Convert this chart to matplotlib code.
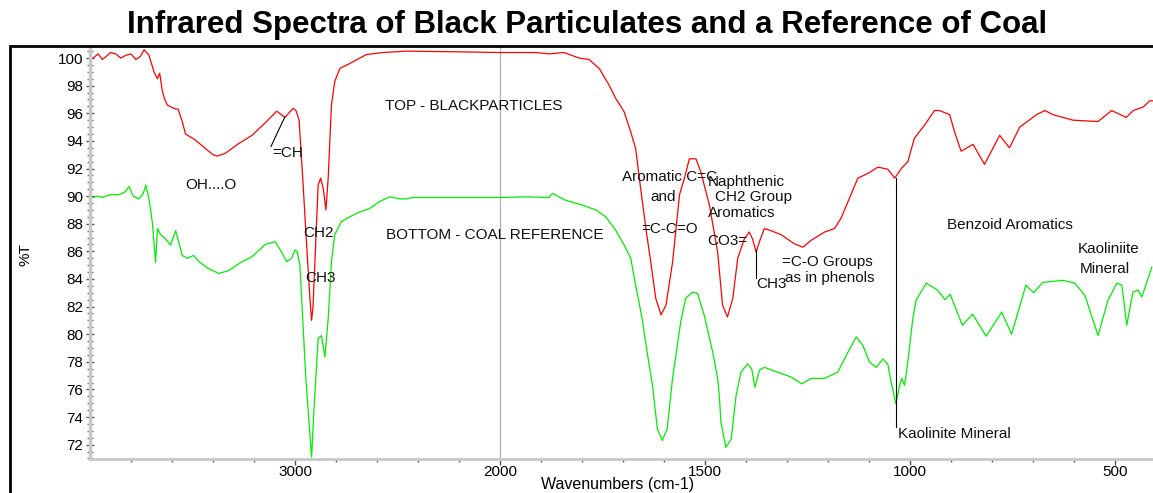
import numpy as np
import matplotlib
matplotlib.use('Agg')
import matplotlib.pyplot as plt
from matplotlib.patches import Rectangle
from matplotlib.ticker import FixedLocator

plt.rcParams['font.family'] = ['Liberation Sans', 'DejaVu Sans']

# top spectrum: black particles (wavenumber cm-1, %T)
red_wn = [3985, 3960, 3940, 3922, 3900, 3874, 3850, 3825, 3800, 3777, 3755, 3736,
          3712, 3688, 3671, 3660, 3647, 3635, 3623, 3591, 3570, 3550, 3534, 3485,
          3437, 3400, 3380, 3340, 3275, 3210, 3146, 3089, 3049, 3010, 2995, 2980,
          2960, 2947, 2927, 2919, 2912, 2903, 2887, 2875, 2862, 2849, 2838, 2822,
          2806, 2781, 2733, 2652, 2571, 2458, 2200, 2000, 1913, 1880, 1844, 1807,
          1783, 1758, 1734, 1718, 1697, 1681, 1669, 1660, 1644, 1632, 1620, 1607,
          1595, 1579, 1562, 1550, 1538, 1522, 1510, 1489, 1469, 1457, 1445, 1432,
          1420, 1404, 1392, 1384, 1375, 1367, 1355, 1339, 1314, 1282, 1261, 1241,
          1208, 1184, 1168, 1151, 1127, 1102, 1078, 1054, 1037, 1021, 1005, 989,
          964, 940, 928, 903, 891, 875, 846, 818, 781, 757, 732, 691, 671, 651,
          602, 541, 508, 472, 455, 431, 415, 407]
red_t = [100.0, 100.3, 99.9, 100.1, 100.4, 100.3, 100.0, 100.2, 100.3, 99.9, 100.1, 100.6,
         100.2, 99.0, 98.5, 98.9, 97.6, 97.0, 96.6, 96.35, 96.3, 95.4, 94.5, 94.05,
         93.45, 93.0, 92.9, 93.1, 93.8, 94.4, 95.3, 96.15, 95.7, 96.35, 96.2, 95.5,
         90.8, 87.4, 82.6, 81.0, 82.0, 85.2, 90.8, 91.3, 90.55, 89.0, 91.3, 96.6,
         98.3, 99.25, 99.6, 100.25, 100.4, 100.5, 100.45, 100.4, 100.4, 100.3, 100.4, 100.0,
         99.9, 99.25, 98.05, 97.1, 96.1, 94.65, 93.45, 91.3, 87.65, 85.2, 82.6, 81.4,
         82.1, 85.2, 90.1, 91.3, 92.7, 92.7, 91.75, 89.35, 85.95, 82.1, 81.25, 82.6,
         85.5, 86.9, 87.4, 86.9, 85.95, 86.7, 87.65, 87.5, 87.2, 86.55, 86.3, 86.8,
         87.4, 87.65, 88.4, 89.6, 91.3, 91.65, 92.1, 91.95, 91.3, 92.0, 92.5, 94.2,
         95.15, 96.2, 96.2, 95.9, 94.65, 93.25, 93.75, 92.3, 94.4, 93.5, 95.0, 95.9, 96.2, 95.9,
         95.5, 95.4, 96.2, 95.7, 96.2, 96.45, 96.9, 96.9]

# bottom spectrum: coal reference
green_wn = [3987, 3960, 3940, 3922, 3900, 3858, 3830, 3809, 3790, 3761, 3740, 3728,
            3712, 3696, 3680, 3671, 3655, 3631, 3607, 3582, 3566, 3550, 3526, 3494,
            3469, 3421, 3372, 3324, 3259, 3210, 3146, 3097, 3065, 3041, 3016, 3000,
            2990, 2976, 2960, 2947, 2935, 2919, 2908, 2887, 2871, 2854, 2838, 2822,
            2806, 2774, 2733, 2685, 2636, 2587, 2539, 2490, 2458, 2425, 2200, 2000,
            1937, 1880, 1872, 1840, 1799, 1766, 1742, 1718, 1697, 1681, 1669, 1653,
            1641, 1628, 1616, 1604, 1592, 1579, 1559, 1547, 1530, 1518, 1502, 1481,
            1469, 1465, 1461, 1449, 1436, 1424, 1412, 1396, 1386, 1378, 1367, 1355,
            1323, 1290, 1264, 1241, 1208, 1176, 1151, 1131, 1115, 1099, 1082, 1066,
            1054, 1046, 1034, 1025, 1020, 1013, 1005, 993, 985, 960, 933, 914,
            902, 872, 847, 814, 776, 752, 717, 698, 676, 627, 598, 573,
            541, 517, 495, 483, 471, 456, 444, 434, 419, 410]
green_t = [89.9, 90.0, 89.9, 90.0, 90.1, 90.1, 90.3, 90.7, 90.0, 89.8, 90.2, 90.8,
           89.8, 88.1, 85.2, 87.65, 87.2, 86.9, 86.45, 87.5, 86.6, 85.7, 85.5, 85.7,
           85.25, 84.75, 84.4, 84.6, 85.25, 85.6, 86.5, 86.7, 85.95, 85.25, 85.5, 86.1,
           86.0, 85.0, 80.4, 76.8, 74.35, 71.1, 74.35, 79.7, 79.9, 78.35, 81.1, 85.25,
           87.2, 88.15, 88.5, 88.85, 89.1, 89.6, 89.95, 89.8, 89.8, 89.9, 89.9, 89.9,
           89.95, 89.9, 90.2, 89.7, 89.35, 89.0, 88.5, 87.55, 86.45, 85.5, 83.55, 81.1,
           78.7, 76.3, 73.15, 72.3, 73.15, 76.8, 80.9, 82.6, 83.05, 82.95, 81.4, 78.7,
           76.8, 75.55, 73.65, 71.8, 72.4, 75.55, 77.25, 77.85, 77.5, 76.15, 77.4, 77.6,
           77.25, 76.9, 76.4, 76.8, 76.8, 77.25, 78.7, 79.8, 79.2, 78.0, 77.6, 78.2,
           77.85, 76.55, 74.95, 76.3, 76.8, 76.3, 78.0, 81.1, 82.45, 83.7, 83.2, 82.5,
           82.9, 80.65, 81.45, 79.85, 81.6, 80.0, 83.55, 83.0, 83.75, 83.9, 83.7, 82.8,
           79.9, 82.45, 83.7, 83.55, 80.65, 83.05, 83.2, 82.7, 84.05, 84.85]

x_major = [3000, 2000, 1500, 1000, 500]
y_major = list(range(72, 101, 2))

# band labels: (text, wavenumber, %T)
labels = [
    ('=CH', 3112, 93.13), ('OH....O', 3534, 90.8),
    ('TOP - BLACKPARTICLES', 2563, 96.5), ('BOTTOM - COAL REFERENCE', 2558, 87.2),
    ('CH2', 2961, 87.35), ('CH3', 2951, 84.1),
    ('Aromatic C=C', 1702, 91.4), ('and', 1634, 89.9), ('=C-C=O', 1656, 87.6),
    ('Naphthenic', 1494, 91.0), ('CH2 Group', 1475, 89.9), ('Aromatics', 1492, 88.8),
    ('CO3=', 1494, 86.75), ('CH3', 1375, 83.6),
    ('=C-O Groups', 1311, 85.2), ('as in phenols', 1304, 84.05),
    ('Kaolinite Mineral', 1030, 72.8), ('Benzoid Aromatics', 910, 87.9),
    ('Kaoliniite', 590, 86.2), ('Mineral', 585, 84.7),
]
# leader lines: ([w1, w2], [t1, t2])
leaders = [([3117, 3049], [93.6, 95.75]),
           ([1375, 1375], [86.1, 84.05]),
           ([1035, 1035], [91.3, 73.28])]


def fwd(w):
    w = np.asarray(w, dtype=float)
    return np.where(w > 2000, 2000 + (w - 2000) / 2, w)


def inv(x):
    x = np.asarray(x, dtype=float)
    return np.where(x > 2000, 2000 + (x - 2000) * 2, x)


W, H = 1153, 493
fig = plt.figure(figsize=(W / 100, H / 100), dpi=100)
ax = fig.add_axes([90 / W, 34 / H, 1063 / W, 412 / H])
ax.set_xscale('function', functions=(fwd, inv))

ax.axvline(2000, color='#b4b4b4', lw=0.9, zorder=0)
ax.plot(red_wn, red_t, color='#ff0000', lw=0.9)
ax.plot(green_wn, green_t, color='#00ee00', lw=0.9)

for xs, ys in leaders:
    ax.plot(xs, ys, color='black', lw=0.8)
for s, w, t in labels:
    ax.text(w, t, s, ha='left', va='center', fontsize=11, color='#111111')

ax.set_xlim(4000, 407)
ax.set_ylim(70.96, 100.8)

ax.xaxis.set_major_locator(FixedLocator(x_major))
minor_x = [w for w in list(range(3800, 2000, -200)) + list(range(1900, 400, -100))
           if w not in x_major]
ax.xaxis.set_minor_locator(FixedLocator(minor_x))
ax.set_xticklabels([str(v) for v in x_major])
ax.set_yticks(y_major)
ax.yaxis.set_minor_locator(FixedLocator(np.arange(71, 100.6, 0.5)))

for side in ['top', 'right']:
    ax.spines[side].set_visible(False)
ax.spines['left'].set_color('#c8c8c8')
ax.spines['left'].set_linewidth(2.5)
ax.spines['bottom'].set_color('#c8c8c8')
ax.spines['bottom'].set_linewidth(2.0)

ax.tick_params(axis='y', which='major', direction='inout', length=6, width=1,
               color='#555555', labelsize=11, pad=2)
ax.tick_params(axis='y', which='minor', direction='inout', length=4, width=1,
               color='#777777')
ax.tick_params(axis='x', which='major', direction='out', length=4, width=1,
               color='#555555', labelsize=11, pad=0.5)
ax.tick_params(axis='x', which='minor', direction='out', length=2.5, width=1,
               color='#555555')

fig.text(25 / W, 1 - 255 / H, '%T', rotation=90, ha='center', va='center', fontsize=11)
fig.text(618 / W, 1 - 485 / H, 'Wavenumbers (cm-1)', ha='center', va='center', fontsize=11.5)
fig.text(587 / W, 1 - 25 / H, 'Infrared Spectra of Black Particulates and a Reference of Coal',
         ha='center', va='center', fontsize=22.5, fontweight='bold')

fig.patches.append(Rectangle((10 / W, -0.1), 1.2, (H - 46) / H + 0.1, transform=fig.transFigure,
                             fill=False, ec='black', lw=2, figure=fig))

fig.savefig('out.png', dpi=100)
